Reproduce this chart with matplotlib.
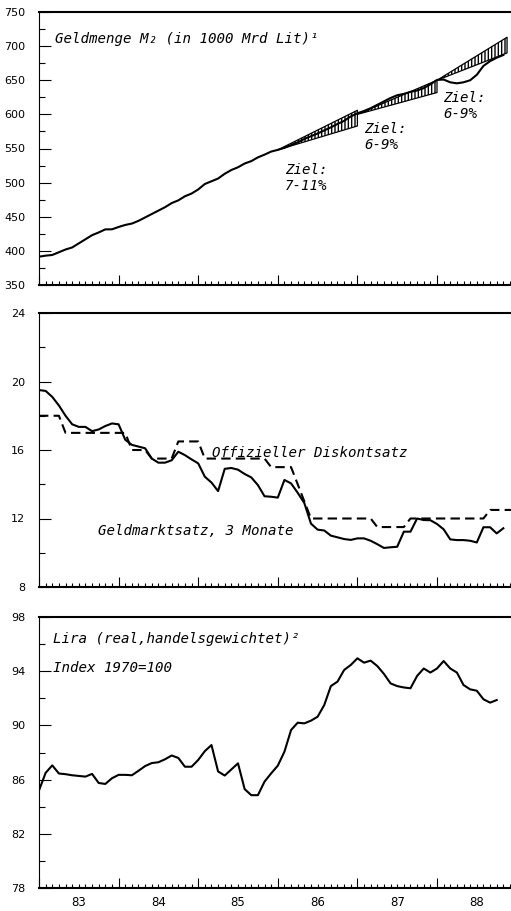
import matplotlib
matplotlib.use("Agg")
import matplotlib.pyplot as plt
import numpy as np
from matplotlib.ticker import MultipleLocator, NullFormatter, FixedLocator

# ---------------- data ----------------
start_year = 1983
years = [1983, 1984, 1985, 1986, 1987, 1988]
year_labels = ["83", "84", "85", "86", "87", "88"]

# Geldmenge M2 (1000 Mrd Lit), monthly from Jan 1983
m2_values = [391.5, 393, 394, 398, 402, 405, 411, 417, 423, 427, 431.5, 431.6,
             435, 438, 440, 444, 449, 454, 459, 464, 470, 474, 480, 484,
             490, 498, 502, 506, 513, 518.5, 522.5, 528, 531.5, 537, 541, 545.5,
             548, 551, 555, 559, 564, 568, 572, 576.5, 581, 586, 590.5, 597,
             601.6, 605, 609, 614, 619, 624, 628, 630, 633, 635, 638.5, 644,
             650.5, 651, 647, 645.5, 647, 650, 658, 671, 678, 683, 687]

# target corridors
band_start = [1986.0, 1987.0, 1988.0]
band_end = [1987.0, 1988.0, 1988.88]
band_base = [548, 600, 650]
band_low_end = [583, 632, 690]
band_high_end = [606, 650, 713]
band_labels = ["Ziel:\n7-11%", "Ziel:\n6-9%", "Ziel:\n6-9%"]

# Geldmarktsatz, 3 Monate (monthly)
money_market = [19.5, 19.45, 19.1, 18.6, 18.0, 17.5, 17.35, 17.35, 17.1, 17.2, 17.4, 17.55,
                17.5, 16.6, 16.3, 16.2, 16.1, 15.5, 15.26, 15.26, 15.4, 15.9, 15.7, 15.45,
                15.22, 14.44, 14.1, 13.6, 14.9, 14.95, 14.85, 14.6, 14.4, 13.95, 13.3, 13.27,
                13.22, 14.25, 14.05, 13.5, 12.9, 11.7, 11.35, 11.3, 11.0, 10.9, 10.8, 10.75,
                10.84, 10.84, 10.7, 10.5, 10.28, 10.32, 10.35, 11.23, 11.23, 12.0, 11.91, 11.9,
                11.68, 11.37, 10.78, 10.74, 10.74, 10.7, 10.6, 11.49, 11.49, 11.13, 11.43]

# Offizieller Diskontsatz (monthly)
discount_rate = [18, 18, 18, 18,
                 17, 17, 17, 17, 17, 17, 17, 17, 17, 17,
                 16, 16, 16,
                 15.5, 15.5, 15.5, 15.5,
                 16.5, 16.5, 16.5, 16.5,
                 15.5, 15.5, 15.5, 15.5, 15.5, 15.5, 15.5, 15.5, 15.5, 15.5,
                 15, 15, 15, 15,
                 14, 13,
                 12, 12, 12, 12, 12, 12, 12, 12, 12, 12,
                 11.5, 11.5, 11.5, 11.5, 11.5,
                 12, 12, 12, 12, 12, 12, 12, 12, 12, 12, 12, 12,
                 12.5, 12.5, 12.5, 12.5, 12.5]

# Lira real, handelsgewichtet, Index 1970=100 (monthly)
lira_index = [85.2, 86.5, 87.05, 86.45, 86.4, 86.32, 86.27, 86.22, 86.42, 85.75, 85.68, 86.1,
              86.35, 86.35, 86.32, 86.65, 87.0, 87.22, 87.28, 87.5, 87.78, 87.6, 86.95, 86.95,
              87.45, 88.1, 88.55, 86.6, 86.3, 86.75, 87.2, 85.3, 84.85, 84.85, 85.85,
              86.46, 87.03, 88.06, 89.66, 90.2, 90.15, 90.35, 90.64, 91.5, 92.9, 93.23, 94.09,
              94.46, 94.95, 94.63, 94.78, 94.38, 93.8, 93.1, 92.9, 92.8, 92.74, 93.65, 94.2,
              93.9, 94.2, 94.75, 94.2, 93.9, 92.98, 92.66, 92.56, 91.93, 91.68, 91.87]

y1_ticks = [350, 400, 450, 500, 550, 600, 650, 700, 750]
y2_ticks = [8, 12, 16, 20, 24]
y3_ticks = [78, 82, 86, 90, 94, 98]


def months(series):
    return start_year + np.arange(len(series)) / 12.0


# ---------------- figure ----------------
W, H = 511, 911
fig = plt.figure(figsize=(W / 100, H / 100), dpi=100)

ax_left_px = 39
ax_width_px = 477.6  # spans 1983..1989, right part cropped by figure edge


def make_axes(top_px, bottom_px):
    return fig.add_axes([ax_left_px / W, (H - bottom_px) / H,
                         ax_width_px / W, (bottom_px - top_px) / H])


ax1 = make_axes(12, 285)
ax2 = make_axes(313, 587)
ax3 = make_axes(617, 888)

mono = dict(family="DejaVu Sans Mono", style="italic", fontsize=10.2, color="black")


def minor_between(ticks):
    return [(a + b) / 2 for a, b in zip(ticks[:-1], ticks[1:])]


for ax, yt in ((ax1, y1_ticks), (ax2, y2_ticks), (ax3, y3_ticks)):
    ax.set_xlim(1983, 1989)
    ax.set_ylim(yt[0], yt[-1])
    ax.yaxis.set_major_locator(FixedLocator(yt))
    ax.yaxis.set_minor_locator(FixedLocator(minor_between(yt)))
    ax.spines["right"].set_visible(False)
    ax.spines["left"].set_linewidth(0.8)
    ax.spines["top"].set_linewidth(1.5)
    ax.spines["bottom"].set_linewidth(1.5)
    ax.xaxis.set_major_locator(MultipleLocator(1))
    ax.xaxis.set_minor_locator(MultipleLocator(1 / 12))
    ax.xaxis.set_major_formatter(NullFormatter())
    ax.tick_params(axis="x", which="major", direction="in", length=7, width=0.8,
                   top=False, bottom=True)
    ax.tick_params(axis="x", which="minor", direction="in", length=2.6, width=0.8,
                   top=False, bottom=True)
    ax.tick_params(axis="y", which="major", direction="in", length=8.5, width=0.8,
                   labelsize=8, pad=10, right=False)
    ax.tick_params(axis="y", which="minor", direction="in", length=4, width=0.8,
                   right=False)

# ---- panel 1: M2 ----
for s, e, b, lo, hi in zip(band_start, band_end, band_base, band_low_end, band_high_end):
    ax1.fill_between([s, e], [b, lo], [b, hi], facecolor="white", edgecolor="black",
                     hatch="|||||", linewidth=0.9, zorder=2)
ax1.plot(months(m2_values), m2_values, color="black", lw=1.5, zorder=3,
         solid_joinstyle="round")
ax1.text(16 / ax_width_px, 0.886, "Geldmenge M\u2082 (in 1000 Mrd Lit)\u00b9",
         transform=ax1.transAxes, va="baseline", ha="left", **mono)
label_pos = [(285, 163), (364, 122), (443, 91)]
for (xp, yp), txt in zip(label_pos, band_labels):
    ax1.text((xp - ax_left_px) / ax_width_px, (285 - yp) / 273, txt,
             transform=ax1.transAxes, va="top", ha="left", linespacing=1.15, **mono)

# ---- panel 2: interest rates ----
ax2.plot(months(discount_rate), discount_rate, color="black", lw=1.5,
         dashes=(4.5, 2.5))
ax2.plot(months(money_market), money_market, color="black", lw=1.5,
         solid_joinstyle="round")
ax2.text((212 - ax_left_px) / ax_width_px, (587 - 456.7) / 274, "Offizieller Diskontsatz",
         transform=ax2.transAxes, va="baseline", ha="left", **mono)
ax2.text((98 - ax_left_px) / ax_width_px, (587 - 535) / 274, "Geldmarktsatz, 3 Monate",
         transform=ax2.transAxes, va="baseline", ha="left", **mono)

# ---- panel 3: Lira ----
ax3.plot(months(lira_index), lira_index, color="black", lw=1.5, solid_joinstyle="round")
ax3.text(14 / ax_width_px, (888 - 642.7) / 271, "Lira (real,handelsgewichtet)\u00b2",
         transform=ax3.transAxes, va="baseline", ha="left", **mono)
ax3.text(14 / ax_width_px, (888 - 671.7) / 271, "Index 1970=100",
         transform=ax3.transAxes, va="baseline", ha="left", **mono)
for y, lab in zip(years, year_labels):
    ax3.text(y + 0.5, -15 / 271, lab, transform=ax3.get_xaxis_transform(),
             ha="center", va="center", fontsize=8.5, family="DejaVu Sans")

fig.savefig("out.png", dpi=100)
